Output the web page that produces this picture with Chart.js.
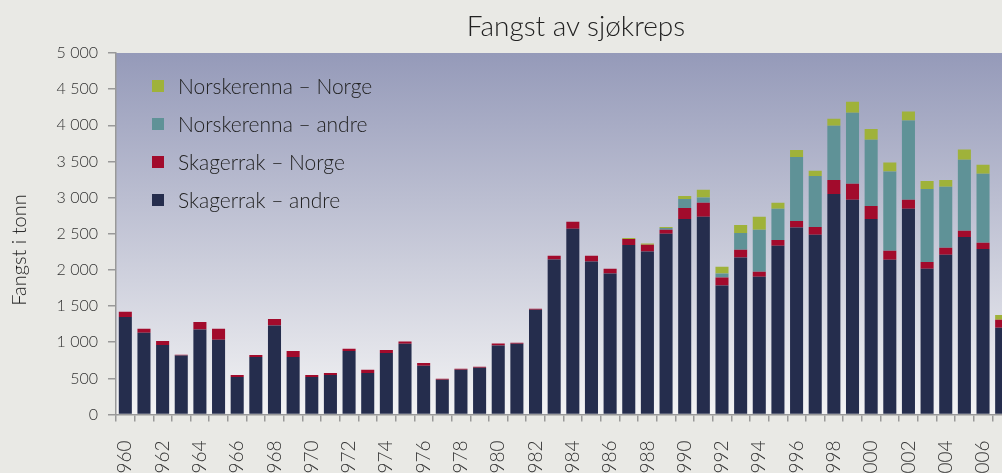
<!DOCTYPE html>
<html>
<head>
<meta charset="utf-8">
<script src="https://cdn.jsdelivr.net/npm/chart.js@4.4.1/dist/chart.umd.min.js"></script>
<style>
html,body{margin:0;padding:0;background:#e9e9e5;overflow:hidden;width:1002px;height:473px;}
#wrap{position:relative;width:1002px;height:473px;overflow:hidden;}
#chart{position:absolute;left:0;top:0;}
#title{position:absolute;left:376px;width:400px;top:8px;text-align:center;font:300 28px Lato,"DejaVu Sans",sans-serif;color:#222;}
#ytitle{position:absolute;left:-82px;top:238px;width:200px;text-align:center;font:300 20px Lato,"DejaVu Sans",sans-serif;color:#222;transform:rotate(-90deg);}
</style>
</head>
<body>
<div id="wrap">
  <canvas id="chart" width="1011" height="500" style="width:1011px;height:500px"></canvas>
  <div id="title">Fangst av sjøkreps</div>
  <div id="ytitle">Fangst i tonn</div>
</div>
<script>
// --- Data (tonn) ---
const years = [];
for(let y=1960;y<=2007;y++) years.push(String(y));

const skagerrakAndre = [1350,1130,960,815,1175,1035,520,795,1230,795,520,547,880,575,850,980,675,480,620,648,
  955,980,1450,2145,2570,2115,1950,2345,2255,2500,2705,2735,1785,2170,1905,2335,2585,2485,3050,2970,
  2705,2140,2845,2015,2210,2455,2290,1200];
const skagerrakNorge = [70,55,55,10,105,150,28,28,92,83,28,28,28,45,42,28,37,14,14,14,
  27,14,14,50,95,80,65,83,92,55,150,195,110,110,70,80,92,110,195,220,
  180,125,125,95,95,85,85,110];
const norskerennaAndre = [0,0,0,0,0,0,0,0,0,0,0,0,0,0,0,0,0,0,0,0,
  0,0,0,0,0,0,0,0,0,25,125,70,55,230,580,430,885,705,750,985,
  915,1095,1095,1010,845,985,955,0];
const norskerennaNorge = [0,0,0,0,0,0,0,0,0,0,0,0,0,0,0,0,0,0,0,0,
  0,0,0,0,0,0,0,14,18,15,42,110,93,110,180,83,97,70,95,150,
  150,125,125,110,95,140,125,65];

const seriesNames = ["Skagerrak – andre","Skagerrak – Norge","Norskerenna – andre","Norskerenna – Norge"];
const seriesColors = ["#252d4d","#a20b2c","#5f9297","#9fb23a"];
const yTicks = [0,500,1000,1500,2000,2500,3000,3500,4000,4500,5000];

function fmt(v){
  return String(v).replace(/\B(?=(\d{3})+(?!\d))/g," ");
}

// --- Plot background gradient ---
const bgPlugin = {
  id:"bg",
  beforeDraw(chart){
    const {ctx, chartArea:a} = chart;
    const g = ctx.createLinearGradient(0,a.top,0,a.bottom);
    g.addColorStop(0,"#959ab9");
    g.addColorStop(1,"#f3f3f4");
    ctx.save();
    ctx.fillStyle = g;
    ctx.fillRect(a.left,a.top,a.right-a.left,a.bottom-a.top);
    ctx.restore();
  }
};

// --- Legend inside the plot ---
const legendPlugin = {
  id:"inLegend",
  afterDraw(chart){
    const ctx = chart.ctx;
    ctx.save();
    ctx.font = "300 21px Lato, 'DejaVu Sans', sans-serif";
    ctx.textBaseline = "middle";
    const order = [3,2,1,0];
    order.forEach((d,i)=>{
      const ds = chart.data.datasets[d];
      const cy = 86 + i*38;
      ctx.fillStyle = ds.backgroundColor;
      ctx.fillRect(152,cy-6,12,12);
      ctx.fillStyle = "#222";
      ctx.fillText(ds.label,178,cy+1);
    });
    ctx.restore();
  }
};

const datasets = [skagerrakAndre,skagerrakNorge,norskerennaAndre,norskerennaNorge].map((d,i)=>({
  label:seriesNames[i],
  data:d,
  backgroundColor:seriesColors[i],
  borderWidth:0,
  barPercentage:0.7,
  categoryPercentage:1.0
}));

new Chart(document.getElementById("chart").getContext("2d"),{
  type:"bar",
  data:{labels:years, datasets},
  plugins:[bgPlugin,legendPlugin],
  options:{
    responsive:false,
    animation:false,
    layout:{padding:{top:53,left:0,right:0,bottom:0}},
    plugins:{legend:{display:false}, tooltip:{enabled:false}, title:{display:false}},
    scales:{
      x:{
        stacked:true,
        afterFit:(s)=>{ s.height = 500-414.5; s.paddingLeft = 0; s.paddingRight = 0; },
        grid:{display:true, drawOnChartArea:false, offset:true, tickLength:7, color:"#999", lineWidth:1.5},
        border:{display:true, color:"#999", width:1.5},
        ticks:{
          autoSkip:false, maxRotation:90, minRotation:90, padding:19,
          color:"#333", font:{family:"Lato, 'DejaVu Sans', sans-serif", size:19, weight:"300"},
          callback:(v,i)=> i%2===0 ? years[i] : ""
        }
      },
      y:{
        stacked:true, min:0, max:5000,
        afterFit:(s)=>{ s.width = 116; },
        afterBuildTicks:(s)=>{ s.ticks = yTicks.map(v=>({value:v})); },
        grid:{display:true, drawOnChartArea:false, tickLength:8, color:"#999", lineWidth:1.5},
        border:{display:true, color:"#999", width:1.5},
        ticks:{
          padding:10, color:"#333",
          font:{family:"Lato, 'DejaVu Sans', sans-serif", size:16, weight:"300"},
          callback:(v)=>fmt(v)
        }
      }
    }
  }
});
</script>
</body>
</html>
